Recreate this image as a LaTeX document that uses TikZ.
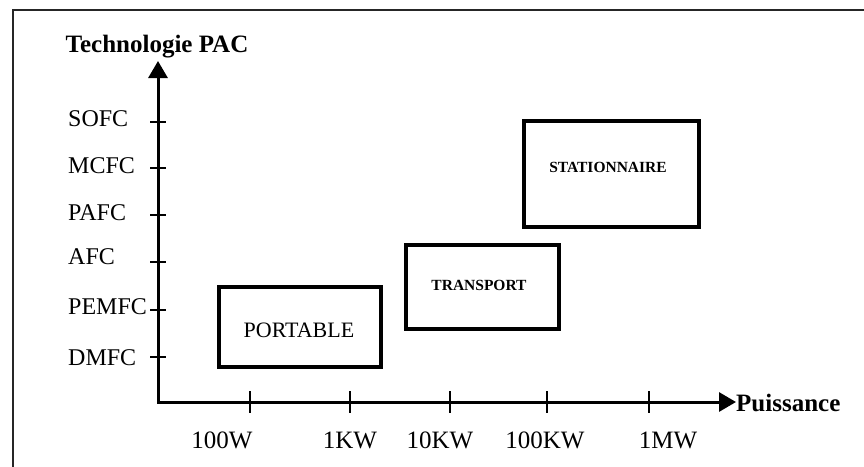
\documentclass[tikz,border=0pt]{standalone}
\usepackage{fontspec}
\setmainfont{Liberation Serif}
\usetikzlibrary{arrows.meta}

\tikzset{
  frameline/.style={line width=2pt, draw=black!85},
  axis/.style={line width=3pt, {Triangle[width=19pt,length=17pt]}-{Triangle[width=19pt,length=17pt]}},
  tickmark/.style={line width=2.2pt},
  zone/.style={draw, line width=4.2pt, rectangle, inner sep=0pt},
  techlabel/.style={anchor=west, inner sep=0pt, font=\fontsize{24}{28}\selectfont},
  powlabel/.style={inner sep=0pt, font=\fontsize{25}{29}\selectfont},
  axistitle/.style={inner sep=0pt, font=\fontsize{25}{29}\selectfont\bfseries},
  zonelabel/.style={inner sep=0pt, font=\fontsize{15.5}{18}\selectfont\bfseries},
}

\begin{document}
\begin{tikzpicture}[x=1pt, y=-1pt]
  \useasboundingbox (0,0) rectangle (864,466);
  \fill[white] (0,0) rectangle (864,466);

  % outer frame (top and left edges)
  \coordinate (fr) at (866,10);
  \coordinate (fc) at (13,10);
  \coordinate (fb) at (13,468);
  \draw[frameline] (fr) -- (fc) -- (fb);

  % axes
  \coordinate (O) at (158,402);
  \coordinate (ytop) at (158,61);
  \coordinate (xend) at (736,402);
  \draw[axis] (ytop) -- (O) -- (xend);

  \node[axistitle] (ytitle) at (157,47) {Technologie PAC};
  \node[axistitle, anchor=west] (xtitle) at (736,403) {Puissance};

  % technology ticks and labels
  \foreach \name/\ty/\ly [count=\i] in {SOFC/122/119, MCFC/168/166, PAFC/215/213, AFC/262/257, PEMFC/310/307, DMFC/357/358} {
    \coordinate (ya\i) at (150,\ty);
    \coordinate (yb\i) at (166,\ty);
    \draw[tickmark] (ya\i) -- (yb\i);
    \node[techlabel] (tech\i) at (68,\ly) {\name};
  }

  % power ticks and labels
  \foreach \name/\tx/\lx [count=\i] in {100W/250/222, 1KW/350/350, 10KW/450/440, 100KW/547/545, 1MW/649/668} {
    \coordinate (xa\i) at (\tx,391);
    \coordinate (xb\i) at (\tx,413);
    \draw[tickmark] (xa\i) -- (xb\i);
    \node[powlabel] (pow\i) at (\lx,440) {\name};
  }

  % application zones
  \node[zone, minimum width=162pt, minimum height=80pt] (portable) at (300,327) {};
  \node[inner sep=0pt, font=\fontsize{22}{26}\selectfont] (portlab) at (299,330) {PORTABLE};

  \node[zone, minimum width=153pt, minimum height=84pt] (transport) at (482.5,287) {};
  \node[zonelabel] (translab) at (479,285) {TRANSPORT};

  \node[zone, minimum width=175pt, minimum height=106pt] (station) at (611.5,174) {};
  \node[zonelabel] (statlab) at (608,167) {STATIONNAIRE};
\end{tikzpicture}
\end{document}
